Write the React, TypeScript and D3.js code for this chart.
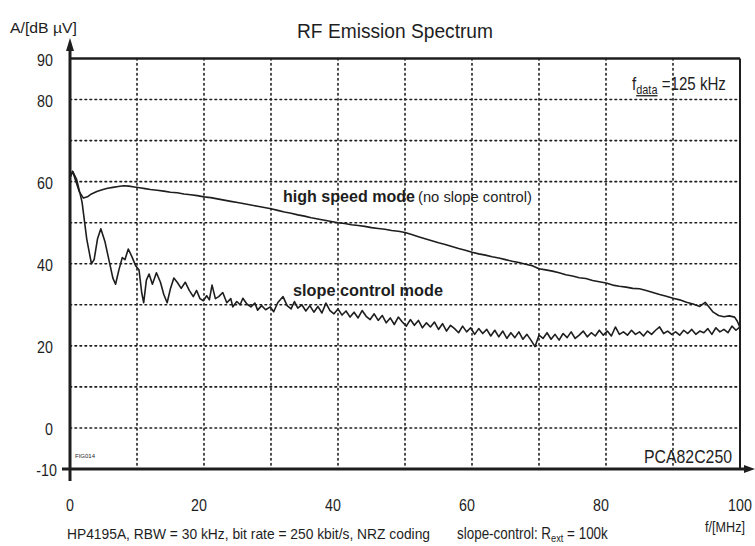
import * as d3 from 'd3'

// frequency axis (MHz) and level axis (dB µV)
const xTicks = [0, 20, 40, 60, 80, 100]
const xGrid = [10, 20, 30, 40, 50, 60, 70, 80, 90]
const yTicks = [90, 80, 60, 40, 20, 0, -10]
const yGrid = [0, 10, 20, 30, 40, 50, 60, 70, 80]

// high speed mode (no slope control)
const highSpeed: [number, number][] = [
  [0, 61], [0.4, 62.5], [0.9, 60], [1.4, 57.5], [2, 56], [2.6, 56.3], [3.2, 57], [4, 57.6],
  [4.8, 58], [5.6, 58.4], [6.4, 58.6], [7.2, 58.8], [8, 59], [8.8, 58.9], [9.6, 58.7],
  [10.4, 58.5], [11.2, 58.3], [12, 58.1], [13, 57.9], [14, 57.7], [15, 57.4], [16, 57.3],
  [17, 57], [18, 56.8], [19, 56.6], [20, 56.3], [21, 56.1], [22, 55.8], [23, 55.5],
  [24, 55.2], [25, 54.9], [26, 54.6], [27, 54.3], [28, 54], [29, 53.7], [30, 53.4],
  [31, 53], [32, 52.6], [33, 52.3], [34, 51.9], [35, 51.6], [36, 51.2], [37, 50.9],
  [38, 50.6], [39, 50.3], [40, 50], [41, 49.8], [42, 49.5], [43, 49.3], [44, 49.1],
  [45, 48.8], [46, 48.6], [47, 48.4], [48, 48.1], [49, 47.9], [50, 47.6], [51, 47.1],
  [52, 46.6], [53, 46.1], [54, 45.6], [55, 45.1], [56, 44.7], [57, 44.2], [58, 43.7],
  [59, 43.3], [60, 42.8], [61, 42.4], [62, 42.1], [63, 41.7], [64, 41.4], [65, 41],
  [66, 40.6], [67, 40.3], [68, 39.9], [69, 39.5], [70, 38.8], [71, 38.5], [72, 38.2],
  [73, 37.8], [74, 37.3], [75, 37], [76, 36.6], [77, 36.4], [78, 35.9], [79, 35.6],
  [80, 35.3], [81, 34.8], [82, 34.5], [83, 34.3], [84, 34], [85, 33.9], [86, 33.5],
  [87, 33], [88, 32.5], [89, 32.1], [90, 31.6], [91, 31.2], [92, 30.6], [93, 30.2],
  [94, 29.6], [94.8, 30.6], [95.4, 29.4], [96, 28.2], [96.8, 27.4], [97.6, 27.1],
  [98.4, 27.3], [99.2, 27], [99.6, 26], [100, 24.5],
]

// slope control mode, R_ext = 100k
const slopeControl: [number, number][] = [
  [0, 61], [0.4, 62.5], [1, 60.5], [1.8, 55], [2.5, 46], [3.2, 40], [3.6, 41], [4.1, 46],
  [4.6, 48.5], [5.2, 45.5], [5.8, 41], [6.4, 36.5], [6.8, 35], [7.3, 38.5], [7.8, 41.5],
  [8.2, 41], [8.7, 43.6], [9.3, 41.5], [9.8, 39.5], [10.3, 38.5], [10.7, 33], [11, 30.5],
  [11.4, 36], [11.8, 37.5], [12.3, 35], [12.9, 37.8], [13.5, 35.5], [14, 32.5], [14.5, 30.5],
  [15, 34], [15.5, 36.5], [16, 35.5], [16.6, 34], [17.2, 35.5], [17.8, 33.5], [18.4, 32],
  [18.9, 33.5], [19.4, 31.5], [19.9, 31], [20.4, 32.2], [20.8, 31.2], [21.2, 34.8],
  [21.7, 31.5], [22.2, 32], [22.8, 33], [23.4, 30.5], [24, 31.5], [24.3, 29.5], [24.9, 30.8],
  [25.4, 30], [25.8, 31.6], [26.4, 30.2], [27, 29.5], [27.6, 30.4], [28, 28.7], [28.6, 29.8],
  [29.2, 28.8], [29.9, 29.5], [30.4, 28.3], [31, 30.5], [31.8, 32], [32.4, 29.8], [33, 29],
  [33.5, 30.8], [34, 29.2], [34.6, 30], [35.2, 28.5], [35.8, 29.8], [36.4, 28.2], [37, 29.6],
  [37.6, 28], [38.2, 30.4], [38.8, 28.6], [39.4, 27.8], [40, 29], [40.6, 27.5], [41.2, 28.5],
  [41.8, 27], [42.4, 28.2], [43, 26.8], [43.6, 28.6], [44.2, 27.2], [44.8, 26.4], [45.4, 27.8],
  [46, 26.2], [46.6, 27.4], [47.2, 25.6], [47.8, 26.8], [48.4, 25.2], [49, 27], [49.6, 25.8],
  [50.2, 24.8], [50.8, 26.4], [51.4, 25], [52, 26.2], [52.6, 24.4], [53.2, 25.6], [53.8, 24.6],
  [54.4, 25.8], [55, 24], [55.6, 25.4], [56.2, 23.6], [56.8, 25], [57.4, 24.2], [58, 23.2],
  [58.6, 24.8], [59.2, 23.4], [59.8, 24.4], [60.4, 22.8], [61, 24.2], [61.6, 23], [62.2, 24],
  [62.8, 22.4], [63.4, 23.8], [64, 22.2], [64.6, 23.6], [65.2, 21.8], [65.8, 23.2], [66.4, 22],
  [67, 23.4], [67.6, 21.6], [68.2, 22.8], [68.8, 21.4], [69.4, 19.8], [70, 22.6], [70.6, 21.8],
  [71.2, 23.2], [71.8, 21.6], [72.4, 22.8], [73, 21.4], [73.6, 23], [74.2, 22], [74.8, 23.4],
  [75.4, 21.8], [76, 22.6], [76.6, 23.6], [77.2, 22.2], [77.8, 23.2], [78.4, 22.4], [79, 23.8],
  [79.6, 22.6], [80.2, 23.6], [80.8, 22.4], [81.4, 24.6], [82, 22.8], [82.6, 23.4], [83.2, 22.6],
  [83.8, 23.8], [84.4, 22.8], [85, 23.4], [85.6, 22.4], [86.2, 23.6], [86.8, 22.8], [87.4, 23.8],
  [88, 24.6], [88.6, 23], [89.2, 23.6], [89.8, 22.8], [90.4, 23.4], [91, 22.6], [91.6, 23.8],
  [92.2, 23], [92.8, 24], [93.4, 22.8], [94, 23.6], [94.6, 23.2], [95.2, 24.2], [95.8, 22.8],
  [96.4, 24.4], [97, 23.4], [97.6, 24], [98.2, 23.2], [98.8, 24.8], [99.4, 23.8], [100, 24.6],
]

const W = 755, H = 546
const INK = '#1e1e1e'
const FONT = '"Liberation Sans", Arial, sans-serif'
const NARROW = 0.84 // the scan uses a condensed face

export default function App() {
  const x = d3.scaleLinear().domain([0, 100]).range([70, 740])
  const y = d3.scaleLinear().domain([-10, 90]).range([469, 58.5])
  const line = d3.line<[number, number]>().x(d => x(d[0])).y(d => y(d[1]))

  return (
    <svg width={W} height={H} style={{ position: 'absolute', left: 0, top: 0, background: '#fff' }}
      fontFamily={FONT} fill={INK}>
      {/* dotted grid */}
      <g stroke={INK} strokeWidth={1.6} strokeDasharray="1.6,3.4" strokeLinecap="round">
        {yGrid.map(v => <line key={'h' + v} x1={x(0)} x2={x(100)} y1={y(v)} y2={y(v)} />)}
        {xGrid.map(v => <line key={'v' + v} x1={x(v)} x2={x(v)} y1={y(90)} y2={y(-10)} />)}
      </g>

      {/* frame */}
      <line x1={x(0)} x2={x(100)} y1={y(90)} y2={y(90)} stroke={INK} strokeWidth={2.5} />
      <line x1={x(100)} x2={x(100)} y1={y(90)} y2={y(-10)} stroke={INK} strokeWidth={2} />

      {/* axes with arrows */}
      <line x1={x(0)} x2={x(0)} y1={481} y2={44} stroke={INK} strokeWidth={3} />
      <path d={`M${x(0)},38 L${x(0) - 4},51 L${x(0) + 4},51 Z`} fill={INK} />
      <line x1={62} x2={748} y1={y(-10)} y2={y(-10)} stroke={INK} strokeWidth={3} />
      <path d={`M755,${y(-10)} L744,${y(-10) - 4} L744,${y(-10) + 4} Z`} fill={INK} />

      {/* traces */}
      <path d={line(highSpeed) ?? ''} fill="none" stroke={INK} strokeWidth={1.6} strokeLinejoin="round" />
      <path d={line(slopeControl) ?? ''} fill="none" stroke={INK} strokeWidth={1.6} strokeLinejoin="round" />

      {/* tick labels */}
      <g fontSize={17} textAnchor="end">
        {yTicks.map(v => (
          <text key={v} transform={`translate(${v === -10 ? 57 : 53},${y(v) + 7}) scale(${NARROW},1)`}>{v}</text>
        ))}
      </g>
      <g fontSize={17} textAnchor="middle">
        {xTicks.map(v => (
          <text key={v} transform={`translate(${x(v) - (v === 0 || v === 100 ? 0 : 5)},511) scale(${NARROW},1)`}>{v}</text>
        ))}
      </g>

      {/* titles and notes */}
      <text x={297} y={38} fontSize={21} textLength={196} lengthAdjust="spacingAndGlyphs">RF Emission Spectrum</text>
      <text x={10} y={33} fontSize={15} textLength={67} lengthAdjust="spacingAndGlyphs">A/[dB  µV]</text>
      <text transform={`translate(632,90) scale(${NARROW},1)`} fontSize={18}>
        f<tspan fontSize={13} dy={4} textDecoration="underline">data</tspan>
        <tspan dy={-4}> =125 kHz</tspan>
      </text>
      <text x={283} y={202} fontSize={17} fontWeight="bold" textLength={132} lengthAdjust="spacingAndGlyphs">high speed mode</text>
      <text x={418} y={202} fontSize={14} textLength={114} lengthAdjust="spacingAndGlyphs">(no slope control)</text>
      <text x={293} y={296} fontSize={17} fontWeight="bold" textLength={150} lengthAdjust="spacingAndGlyphs">slope control mode</text>
      <text x={644} y={463} fontSize={19} textLength={88} lengthAdjust="spacingAndGlyphs">PCA82C250</text>
      <text x={75} y={458} fontSize={6}>FIG014</text>
      <text x={67} y={539} fontSize={15} textLength={363} lengthAdjust="spacingAndGlyphs">HP4195A, RBW = 30 kHz, bit rate = 250 kbit/s, NRZ coding</text>
      <text transform={`translate(457,539) scale(${NARROW},1)`} fontSize={16}>
        slope-control: R<tspan fontSize={11} dy={3}>ext</tspan><tspan dy={-3}> = 100k</tspan>
      </text>
      <text transform={`translate(745,532) scale(${NARROW},1)`} fontSize={15} textAnchor="end">f/[MHz]</text>
    </svg>
  )
}
